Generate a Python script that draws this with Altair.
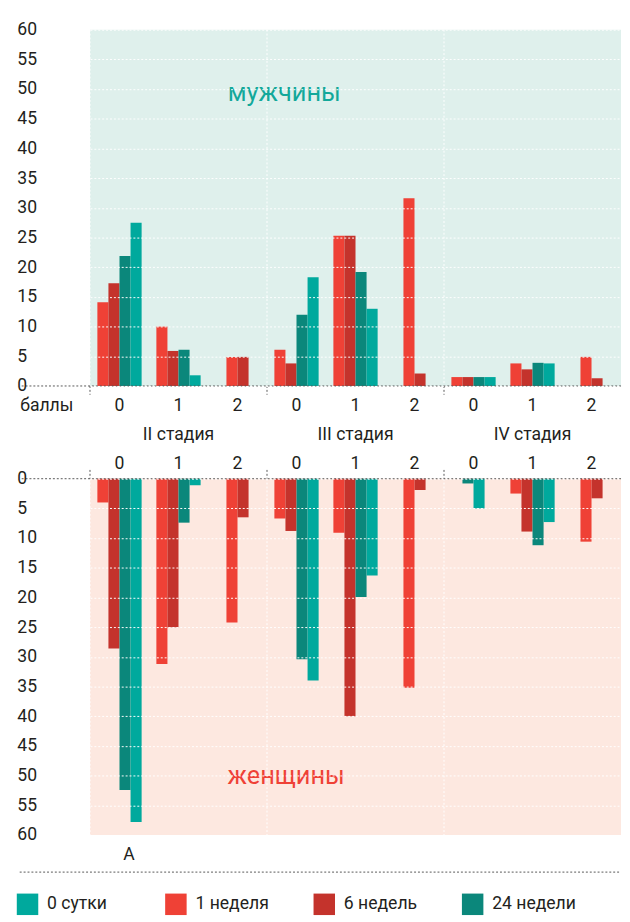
import altair as alt
import pandas as pd

# ---------------- data ----------------
stage_ids = ["II", "III", "IV"]
scores = ["0", "1", "2"]
bar_series = ["1 неделя", "6 недель", "24 недели", "0 сутки"]      # order of bars in a group
legend_series = ["0 сутки", "1 неделя", "6 недель", "24 недели"]   # order in legend
legend_colors = ["#00A99D", "#EF4136", "#C4332C", "#0B877B"]

# values per group: II-0, II-1, II-2, III-0, III-1, III-2, IV-0, IV-1, IV-2 (None = no bar)
men_1w = [14.1, 10.0, 4.9, 6.1, 25.3, 31.6, 1.5, 3.8, 4.9]
men_6w = [17.3, 5.9, 4.9, 3.8, 25.3, 2.1, 1.5, 2.8, 1.3]
men_24w = [21.9, 6.1, None, 12.0, 19.2, None, 1.5, 3.9, None]
men_0d = [27.5, 1.8, None, 18.3, 13.0, None, 1.5, 3.8, None]

women_1w = [4.0, 31.2, 24.2, 6.7, 9.1, 35.2, None, 2.5, 10.6]
women_6w = [28.6, 25.0, 6.5, 8.8, 40.0, 1.9, None, 8.9, 3.3]
women_24w = [52.4, 7.4, None, 30.4, 19.9, None, 0.8, 11.2, None]
women_0d = [57.8, 1.1, None, 34.0, 16.3, None, 5.0, 7.3, None]

y_ticks = list(range(0, 61, 5))
groups = [f"{s}-{c}" for s in stage_ids for c in scores]

DARK = "#231F20"
FONT = "Roboto"


def build(arrays):
    rows = []
    for gi, g in enumerate(groups):
        present = [(s, a[gi]) for s, a in zip(bar_series, arrays) if a[gi] is not None]
        n = len(present)
        for i, (s, v) in enumerate(present):
            rows.append({"group": g, "series": s, "value": v, "slot": i + (4 - n) // 2})
    return pd.DataFrame(rows)


men_df = build([men_1w, men_6w, men_24w, men_0d])
women_df = build([women_1w, women_6w, women_24w, women_0d])
one = pd.DataFrame({"k": [0]})
stage_starts = pd.DataFrame({"group": [f"{s}-{scores[0]}" for s in stage_ids]})

W, H = 544, 365

color = alt.Color(
    "series:N",
    scale=alt.Scale(domain=legend_series, range=legend_colors),
    legend=alt.Legend(
        title=None, orient="none", legendX=-75, legendY=885, direction="horizontal",
        columns=4, symbolType="square", symbolSize=484, symbolStrokeWidth=0,
        symbolOpacity=1, labelFontSize=18, labelColor=DARK, labelFont=FONT,
        labelOffset=9, columnPadding=35, gridAlign="all",
    ),
)
xoff = alt.XOffset("slot:O", scale=alt.Scale(domain=[0, 1, 2, 3], paddingInner=0, paddingOuter=0.667))
x_scale = alt.Scale(domain=groups, paddingInner=0, paddingOuter=0)


def x_enc(orient, label_expr, extra):
    return alt.X(
        "group:N", sort=groups, scale=x_scale,
        axis=alt.Axis(
            orient=orient, labelExpr=label_expr, labelAngle=0, labelFontSize=18,
            labelColor=DARK, labelFont=FONT, domain=False, ticks=False, grid=False,
            labelOverlap=False, **extra,
        ),
    )


def y_enc(reverse):
    return alt.Y(
        "value:Q",
        scale=alt.Scale(domain=[0, 60], nice=False, reverse=reverse),
        axis=alt.Axis(
            values=y_ticks, title=None, labelAlign="left", labelPadding=75,
            labelBaseline="middle", labelFontSize=18, labelColor=DARK, labelFont=FONT,
            labelFlush=True, ticks=False, domain=False, labelOverlap=False,
            grid=True, gridColor="white", gridDash=[2, 2], zindex=1,
        ),
    )


def sep_layers(tick_y, tick_y2):
    white = alt.Chart(stage_starts).mark_rule(color="white", strokeDash=[2, 2]).encode(
        x=alt.X("group:N", bandPosition=0, scale=x_scale, sort=groups),
        y=alt.value(0), y2=alt.value(H),
    )
    dark = alt.Chart(stage_starts).mark_rule(color="#555555", strokeDash=[2, 2]).encode(
        x=alt.X("group:N", bandPosition=0, scale=x_scale, sort=groups),
        y=alt.value(tick_y), y2=alt.value(tick_y2),
    )
    return white, dark


def base_rule(y):
    return alt.Chart(one).mark_rule(
        color="#555555", strokeDash=[2, 2], strokeDashOffset=2
    ).encode(x=alt.value(-72), x2=alt.value(W), y=alt.value(y))


top_label_expr = (
    "indexof(datum.value, '-1') > 0 ? "
    "[split(datum.value, '-')[1], split(datum.value, '-')[0] + ' стадия'] : "
    "split(datum.value, '-')[1]"
)

top_bars = alt.Chart(men_df).mark_bar().encode(
    x=x_enc("bottom", top_label_expr, dict(
        title="баллы", titleX=-72, titleY=11, titleAlign="left", titleBaseline="top",
        titleFontSize=18, titleFontWeight="normal", titleColor=DARK, titleFont=FONT,
        labelBaseline="top", labelLineHeight=30, labelPadding=11,
    )),
    xOffset=xoff,
    y=y_enc(False),
    color=color,
)
top_text = alt.Chart(pd.DataFrame({"t": ["мужчины"]})).mark_text(
    font=FONT, fontSize=26, color="#12A89A", align="center", baseline="alphabetic"
).encode(text="t:N", x=alt.value(199), y=alt.value(73))

tw, td = sep_layers(H, H + 9)
top = alt.layer(top_bars, tw, td, base_rule(H), top_text).properties(
    width=W, height=H, view=alt.ViewBackground(fill="#DFF0EC")
)

bottom_bars = alt.Chart(women_df).mark_bar().encode(
    x=x_enc("top", "split(datum.value, '-')[1]", dict(
        title=None, labelBaseline="alphabetic", labelPadding=10,
    )),
    xOffset=xoff,
    y=y_enc(True),
    color=color,
)
bottom_line = alt.Chart(one).mark_rule(color="#555555", strokeDash=[2, 2]).encode(
    x=alt.value(-72), x2=alt.value(W), y=alt.value(403)
)
bottom_text = alt.Chart(pd.DataFrame({"t": ["женщины"]})).mark_text(
    font=FONT, fontSize=26, color="#EF4136", align="center", baseline="alphabetic"
).encode(text="t:N", x=alt.value(201), y=alt.value(313))
a_text = alt.Chart(pd.DataFrame({"t": ["A"]})).mark_text(
    font=FONT, fontSize=18, color=DARK, align="center", baseline="alphabetic"
).encode(text="t:N", x=alt.value(40), y=alt.value(391))

bw, bd = sep_layers(-9, 0)
bottom = alt.layer(
    bottom_bars, bw, bd, base_rule(0), bottom_text, a_text, bottom_line
).properties(width=W, height=H, view=alt.ViewBackground(fill="#FDE8E0"))

chart = (
    alt.vconcat(top, bottom, spacing=95, bounds="flush")
    .properties(padding={"left": 9, "top": 2, "right": 0, "bottom": 0})
    .configure(font=FONT)
    .configure_axis(labelOverlap=False)
    .configure_view(stroke=None)
)

chart.save("out.html", embed_options={"renderer": "svg", "actions": False})
